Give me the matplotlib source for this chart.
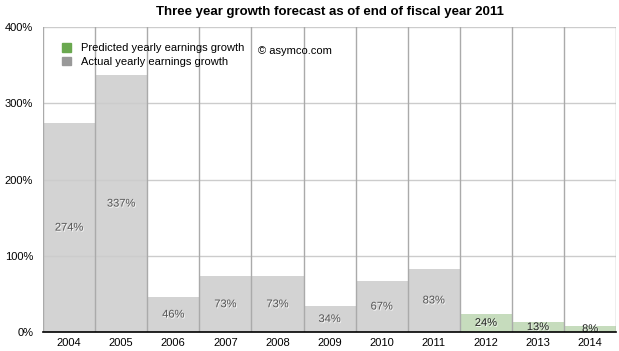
import numpy as np
import matplotlib.pyplot as plt
import matplotlib.patheffects as pe
from matplotlib.patches import Patch

plt.rcParams['font.family'] = ['Liberation Sans', 'DejaVu Sans']

years = ['2004', '2005', '2006', '2007', '2008', '2009', '2010', '2011', '2012', '2013', '2014']
actual = [274, 337, 46, 73, 73, 34, 67, 83]
predicted = [24, 13, 8]
y_ticks = [0, 100, 200, 300, 400]

values = actual + predicted
colors = ['#d3d3d3'] * len(actual) + ['#c6dcbd'] * len(predicted)

fig = plt.figure(figsize=(6.19, 3.51), dpi=100)
ax = fig.add_axes([0.0695, 0.054, 0.926, 0.869])

x = np.arange(len(years))
ax.bar(x, values, width=1.0, color=colors, zorder=1)

# grid lines on top of bars
for yt in y_ticks[1:]:
    ax.axhline(yt, color='#cccccc', lw=1, zorder=2)
for b in np.arange(len(years) + 1) - 0.5:
    ax.axvline(b, color='#aaaaaa', lw=1, zorder=2)

shadow = [pe.SimplePatchShadow(offset=(0.6, -0.8), shadow_rgbFace='#ffffff', alpha=0.8), pe.Normal()]
for i, v in enumerate(values):
    c = '#555555' if i < len(actual) else '#222222'
    ax.text(i, v / 2, f'{v}%', ha='center', va='center', fontsize=8, color=c,
            zorder=3, path_effects=shadow)

ax.set_xlim(-0.5, len(years) - 0.5)
ax.set_ylim(0, 400)
ax.set_yticks(y_ticks)
ax.set_yticklabels([f'{t}%' for t in y_ticks])
ax.set_xticks(x)
ax.set_xticklabels(years)
ax.tick_params(length=0, labelsize=8, colors='black')
ax.tick_params(axis='y', pad=7)
ax.tick_params(axis='x', pad=4)
for s in ['top', 'right', 'left']:
    ax.spines[s].set_visible(False)
ax.spines['bottom'].set_color('black')
ax.spines['bottom'].set_linewidth(1.2)
ax.spines['bottom'].set_zorder(4)

handles = [Patch(color='#6aa84f'), Patch(color='#999999')]
ax.legend(handles, ['Predicted yearly earnings growth', 'Actual yearly earnings growth'],
          loc='upper left', bbox_to_anchor=(0.025, 0.962), frameon=False, fontsize=8,
          handlelength=0.8, handleheight=0.8, handletextpad=0.9, labelspacing=0.3,
          borderaxespad=0.0)
ax.text(0.375, 0.922, '© asymco.com', transform=ax.transAxes, fontsize=8, va='center', zorder=5)

ax.set_title('Three year growth forecast as of end of fiscal year 2011', fontsize=9.5,
             fontweight='bold', pad=9)

fig.savefig('out.png', dpi=100)
